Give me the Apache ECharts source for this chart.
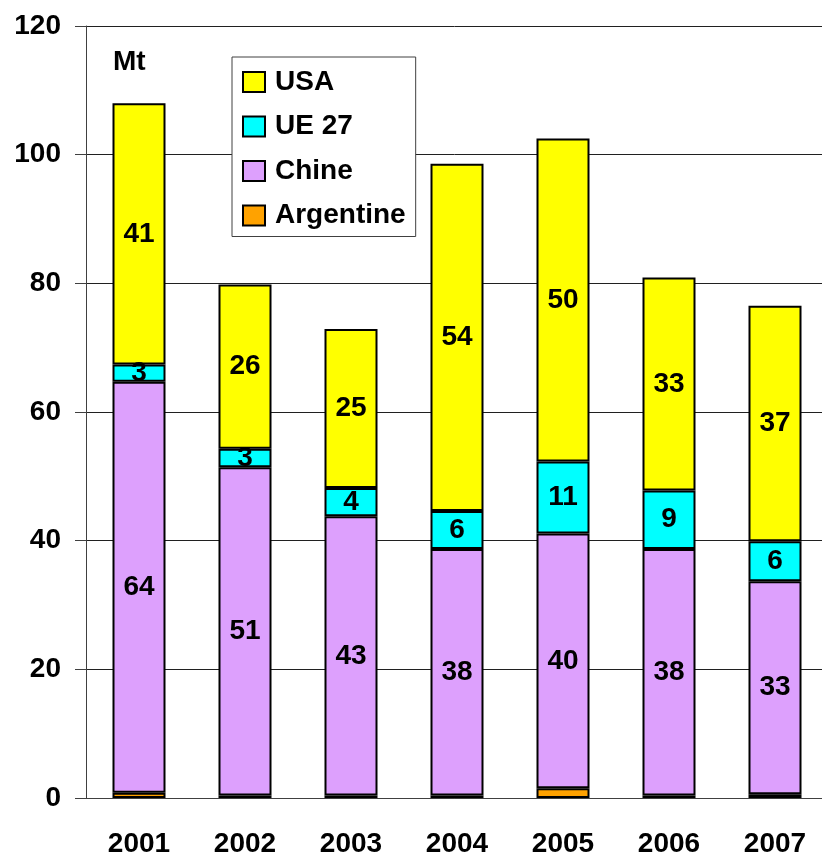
<!DOCTYPE html>
<html>
<head>
<meta charset="utf-8">
<script src="https://cdn.jsdelivr.net/npm/echarts@6/dist/echarts.min.js"></script>
<style>
  html, body { margin: 0; padding: 0; background: #fff; }
  #main { width: 822px; height: 858px; }
</style>
</head>
<body>
<div id="main"></div>
<script>
var years = ['2001', '2002', '2003', '2004', '2005', '2006', '2007'];
var argentine = [0.8, 0.4, 0.4, 0.4, 1.5, 0.4, 0.6];
var chine = [63.9, 51.0, 43.4, 38.3, 39.6, 38.3, 33.1];
var ue27 = [2.7, 2.9, 4.4, 5.9, 11.2, 9.1, 6.2];
var usa = [40.6, 25.5, 24.7, 54.0, 50.2, 33.1, 36.6];
var yTicks = [0, 20, 40, 60, 80, 100, 120];

var font = "'Liberation Sans', Arial, sans-serif";
var colors = ['#ffa200', '#dda0fd', '#00ffff', '#ffff00'];

var chart = echarts.init(document.getElementById('main'));

// étiquettes arrondies au centre de chaque segment
function seg(name, data, color, withLabel) {
    return {
        name: name,
        type: 'bar',
        stack: 'total',
        barWidth: '50%',
        data: data,
        itemStyle: { color: color, borderColor: '#000', borderWidth: 2 },
        label: {
            show: withLabel,
            position: 'inside',
            color: '#000',
            fontFamily: font,
            fontWeight: 'bold',
            fontSize: 28,
            formatter: function (p) { return Math.round(p.value); }
        },
        emphasis: { disabled: true }
    };
}

var option = {
    animation: false,
    backgroundColor: '#fff',
    grid: {
        left: 86,
        top: 26,
        width: 742,
        bottom: 60,
        outerBoundsMode: 'none'
    },
    legend: {
        orient: 'vertical',
        left: 232,
        top: 57,
        data: ['USA', 'UE 27', 'Chine', 'Argentine'],
        backgroundColor: '#fff',
        borderColor: '#404040',
        borderWidth: 1,
        padding: [11, 10, 7, 10],
        itemWidth: 22,
        itemHeight: 20,
        itemGap: 16.5,
        icon: 'rect',
        selectedMode: false,
        textStyle: {
            color: '#000',
            fontFamily: font,
            fontWeight: 'bold',
            fontSize: 28,
            padding: [0, 0, 0, 5]
        }
    },
    xAxis: {
        type: 'category',
        data: years,
        axisLine: { lineStyle: { color: '#404040', width: 1 } },
        axisTick: { length: 10, lineStyle: { color: '#404040' } },
        axisLabel: {
            color: '#000',
            fontFamily: font,
            fontWeight: 'bold',
            fontSize: 28,
            margin: 32
        }
    },
    yAxis: {
        type: 'value',
        min: yTicks[0],
        max: yTicks[yTicks.length - 1],
        interval: 20,
        axisLine: { show: true, lineStyle: { color: '#404040', width: 1 } },
        axisTick: { show: true, length: 11, lineStyle: { color: '#404040' } },
        splitLine: { lineStyle: { color: '#202020', width: 1 } },
        axisLabel: {
            color: '#000',
            fontFamily: font,
            fontWeight: 'bold',
            fontSize: 28,
            margin: 25
        }
    },
    graphic: [{
        type: 'text',
        left: 113,
        top: 48,
        style: {
            text: 'Mt',
            fill: '#000',
            font: 'bold 28px ' + font
        }
    }],
    series: [
        seg('Argentine', argentine, colors[0], false),
        seg('Chine', chine, colors[1], true),
        seg('UE 27', ue27, colors[2], true),
        seg('USA', usa, colors[3], true)
    ]
};

chart.setOption(option);
</script>
</body>
</html>
